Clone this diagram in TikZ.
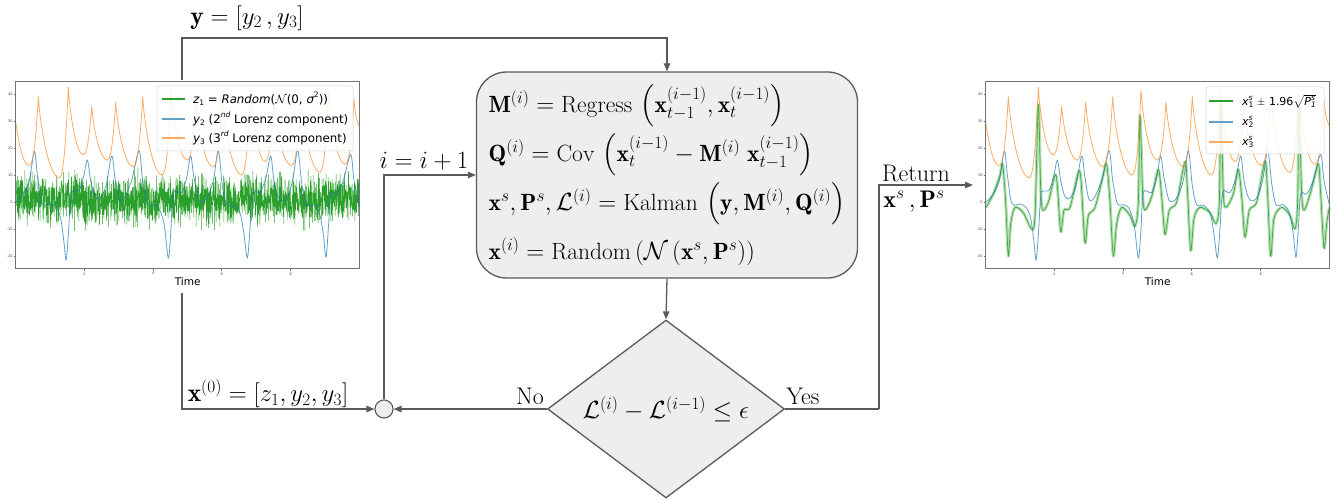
\documentclass[tikz,border=0pt]{standalone}
\usepackage{amsmath,amssymb}
\usepackage{fontspec}
\newfontfamily\dejavu{DejaVu Sans}
\usetikzlibrary{shapes.geometric,arrows.meta,calc}
\definecolor{linec}{HTML}{5A5A5A}
\definecolor{boxfill}{HTML}{EEEEEE}
\definecolor{tabblue}{HTML}{1F77B4}
\definecolor{taborange}{HTML}{FF7F0E}
\definecolor{tabgreen}{HTML}{2CA02C}
\newcommand{\mysub}[1]{\raisebox{-0.35ex}{\fontsize{7.5}{7.5}\selectfont #1}}
\newcommand{\mysup}[1]{\raisebox{0.9ex}{\fontsize{7.5}{7.5}\selectfont #1}}
\newcommand{\stk}[2]{\rlap{\mysup{\itshape #1}}\mysub{#2}}
\newcommand{\orangecurve}{%
  \draw[taborange, opacity=0.65, line width=0.8pt] (47,29.5) .. controls (60,19) and (72,13.5) .. (88,13.5)
  \foreach \m/\v/\p/\V/\n/\w in {88/13.5/115/39/178/9, 178/9/205/42.5/250/17.5, 250/17.5/275/35.5/322/15.5,
    322/15.5/347/37/400/13, 400/13/428/39/487/10, 487/10/513/41.5/562/15.5, 562/15.5/588/37/640/13,
    640/13/667/39/725/10, 725/10/752/41.5/795/15, 795/15/822/36/875/13.5, 875/13.5/903/39.5/960/11,
    960/11/986/41/1035/14}
  { .. controls ({\m+0.5*(\p-\m)},\v) and ({\p-0.22*(\p-\m)},{\V-0.5*(\V-\v)}) .. (\p,\V)
    .. controls ({\p+0.12*(\n-\p)},{\V-0.45*(\V-\w)}) and ({\n-0.45*(\n-\p)},\w) .. (\n,\w) }
  .. controls (1050,14) and (1056,26) .. (1062,38) .. controls (1065,33) and (1070,30) .. (1078,28);}
\newcommand{\bluecurve}{%
  \draw[tabblue, opacity=0.7, line width=0.8pt] plot[smooth, tension=0.55] coordinates {
  (48,0) (70,3) (88,8) (103,18.8) (112,10) (122,1) (132,-1.2) (150,-0.8) (168,-2) (182,-6) (192,-15)
  (198,-21.5) (204,-14) (212,2) (218,4) (238,4.5) (252,10) (262,15.5) (272,8) (285,2) (300,1.5) (318,6)
  (335,17) (345,9) (357,1) (372,1.5) (395,8) (417,19) (428,8) (442,-0.5) (458,-1) (475,-2) (492,-8)
  (505,-20.7) (513,-10) (520,3.5) (545,3.5) (560,9) (572,17) (582,9) (598,0.5) (620,1.5) (640,8)
  (655,19) (667,6) (680,-1) (700,-1.2) (720,-4) (732,-12) (742,-20.7) (750,-10) (758,3.5) (780,3.5)
  (798,9) (812,17) (822,8) (838,1) (860,1.5) (878,8) (893,19) (905,7) (918,-1) (940,-1) (958,-4)
  (970,-12) (978,-20.4) (986,-8) (992,3) (1010,3) (1030,8) (1052,17.6) (1062,8) (1078,-1)};}
\newcommand{\greenpts}{(48,-2) (70,3) (90,10) (98,14) (107,0) (115,-20) (122,-8) (135,-2) (160,-4) (185,-10) (195,-5)
  (205,36) (212,5) (218,-3) (235,0) (255,10) (262,6) (272,-11) (282,-3) (300,-2) (325,11) (333,8)
  (345,-15) (355,-5) (375,-2) (400,10) (410,14) (420,0) (430,-20) (440,-8) (455,-2) (480,-5) (495,-9)
  (505,0) (510,32) (518,3) (525,-3) (545,2) (565,12) (575,2) (585,-12) (598,-3) (620,0) (645,15)
  (652,5) (662,-18) (672,-6) (690,-2) (720,-4) (738,-8) (748,0) (752,36) (760,3) (768,-2) (790,3)
  (805,12) (815,2) (825,-13) (838,-3) (860,0) (885,15) (892,5) (902,-20) (912,-6) (935,-2) (960,-5)
  (975,-10) (983,0) (987,35) (995,3) (1003,-3) (1025,5) (1045,14) (1052,3) (1062,-17) (1070,-8) (1078,-2)}
\newcommand{\axesframe}{%
  \draw[black!55, line width=0.6pt] (47,-24.4) rectangle (1078,44.8);
  \foreach \v in {-20,-10,0,10,20,30,40}{
    \draw[black!55, line width=0.4pt] (41,\v) -- (47,\v);
    \node[anchor=east, inner sep=0.5pt, font=\dejavu\fontsize{3.6}{4}\selectfont, text=black!70] at (40,\v) {\v};}
  \foreach \t/\xx in {2/253,4/459,6/665,8/872}{
    \draw[black!55, line width=0.4pt] (\xx,-24.4) -- (\xx,-25.6);
    \node[anchor=north, inner sep=0.5pt, font=\dejavu\fontsize{3.6}{4}\selectfont, text=black!70] at (\xx,-25.8) {\t};}
  \node[font=\dejavu\fontsize{10.5}{12}\selectfont, inner sep=0pt] at (563,-29.6) {Time};}
\begin{document}
\begin{tikzpicture}[x=1pt, y=-1pt,
  conn/.style={draw=linec, line width=1.3pt},
  arr/.style={conn, -{Triangle[length=8pt,width=6.5pt]}},
  lbl/.style={font=\fontsize{24}{28}\selectfont, inner sep=0pt},
  biglbl/.style={font=\fontsize{25.5}{30}\selectfont, inner sep=0pt},
  flowbox/.style={draw=linec, fill=boxfill, line width=1.3pt, rounded corners=30pt,
    minimum width=381pt, minimum height=206pt, align=left, inner sep=0pt,
    font=\fontsize{23.5}{49}\selectfont},
  decision/.style={diamond, draw=linec, fill=boxfill, line width=1.3pt, aspect=1.33,
    minimum width=237pt, minimum height=178pt, inner sep=0pt, font=\fontsize{25.5}{30}\selectfont},
  junction/.style={circle, draw=linec, fill=boxfill, line width=1.1pt, minimum size=18pt, inner sep=0pt},
  legbox/.style={draw=black!18, fill=white, fill opacity=0.85, rounded corners=2pt, line width=0.5pt},
  legtext/.style={anchor=west, inner sep=0pt, font=\dejavu\fontsize{11.8}{13}\selectfont},
  legtextr/.style={anchor=west, inner sep=0pt, font=\dejavu\fontsize{11}{13}\selectfont}]
\useasboundingbox (0,0) rectangle (1339,500);

% ---------------- left plot ----------------
\begin{scope}[yshift=-202pt, x=0.33333pt, y=2.7pt]
  \pgfmathsetseed{7}
  \draw[tabgreen, line width=0.45pt] plot[domain=47:1078, samples=2200, variable=\t] (\t, {4.4*(rand+rand+rand)+0.8});
  \bluecurve
  \orangecurve
  \axesframe
\end{scope}
\draw[legbox] (157,86) rectangle (353,151);
\draw[tabgreen, line width=1.1pt] (162,99) -- (185,99);
\draw[tabblue!70, line width=1.1pt] (162,119) -- (185,119);
\draw[taborange!65, line width=1.1pt] (162,138) -- (185,138);
\node[legtext] (lg1) at (193,99) {{\itshape z}\mysub{1} = {\itshape Random}($\mathcal{N}$(0, {\itshape σ}\mysup{2}))};
\node[legtext] (lg2) at (193,119) {{\itshape y}\mysub{2} (2\mysup{\itshape nd} Lorenz component)};
\node[legtext] (lg3) at (193,138) {{\itshape y}\mysub{3} (3\mysup{\itshape rd} Lorenz component)};

% ---------------- right plot ----------------
\begin{scope}[xshift=970pt, yshift=-202pt, x=0.33333pt, y=2.7pt]
  \draw[tabgreen, line width=3pt, opacity=0.35, line join=round] plot[smooth, tension=0.5] coordinates {\greenpts};
  \draw[tabgreen, line width=0.7pt, opacity=0.85] plot[smooth, tension=0.5] coordinates {\greenpts};
  \bluecurve
  \orangecurve
  \axesframe
\end{scope}
\draw[legbox] (1206,87) rectangle (1324,154);
\draw[tabgreen, line width=1.1pt] (1209,101) -- (1233,101);
\draw[tabblue!70, line width=1.1pt] (1209,122) -- (1233,122);
\draw[taborange!65, line width=1.1pt] (1209,142) -- (1233,142);
\node[legtextr] (rg1) at (1242,101) {{\itshape x}\stk{s}{1} $\pm$ 1.96$\sqrt{\mbox{\itshape P\stk{s}{1}}}$};
\node[legtextr] (rg2) at (1242,122) {{\itshape x}\stk{s}{2}};
\node[legtextr] (rg3) at (1242,142) {{\itshape x}\stk{s}{3}};

% ---------------- flowchart ----------------
\node[flowbox] (box) at (667,175) {%
  $\mathbf{M}^{(i)} = \operatorname{Regress}\,\left(\mathbf{x}_{t-1}^{(i-1)}, \mathbf{x}_t^{(i-1)}\right)$\\
  $\mathbf{Q}^{(i)} = \operatorname{Cov}\,\left(\mathbf{x}_t^{(i-1)} - \mathbf{M}^{(i)}\;\mathbf{x}_{t-1}^{(i-1)}\right)$\\
  $\mathbf{x}^s, \mathbf{P}^s, \mathcal{L}^{(i)} = \operatorname{Kalman}\,\left(\mathbf{y}, \mathbf{M}^{(i)}, \mathbf{Q}^{(i)}\right)$\\
  $\mathbf{x}^{(i)} = \operatorname{Random}\left(\mathcal{N}\left(\mathbf{x}^s, \mathbf{P}^s\right)\right)$};
\node[decision] (dec) at (666,409) {$\mathcal{L}^{(i)} - \mathcal{L}^{(i-1)} \leq \epsilon$};
\node[junction] (junc) at (384,409) {};

\coordinate (lptop) at (182,80);
\coordinate (ycorner) at (182,38);
\coordinate (lpbot) at (182,293);
\coordinate (turn) at (879,409);
\coordinate (rpin) at (973,185);

\draw[arr] (lptop) -- (ycorner) -| (box.north);
\draw[arr] (lpbot) |- (junc.west);
\draw[arr] (junc.north) |- (box.west);
\draw[arr] (box.south) -- (dec.north);
\draw[arr] (dec.west) -- (junc.east);
\draw[conn] (dec.east) -- (turn);
\draw[arr] (turn) |- (rpin);

\node[biglbl] (ylab) at (247,18) {$\mathbf{y} = [y_2\,, y_3]$};
\node[biglbl] (x0lab) at (268,394) {$\mathbf{x}^{(0)} = [z_1, y_2, y_3]$};
\node[lbl] (ilab) at (424,161) {$i = i + 1$};
\node[lbl] (nolab) at (530,396) {No};
\node[lbl] (yeslab) at (803,396) {Yes};
\node[lbl] (retlab) at (916,173) {Return};
\node[lbl] (xplab) at (914,202) {$\mathbf{x}^s\,, \mathbf{P}^s$};
\end{tikzpicture}
\end{document}
